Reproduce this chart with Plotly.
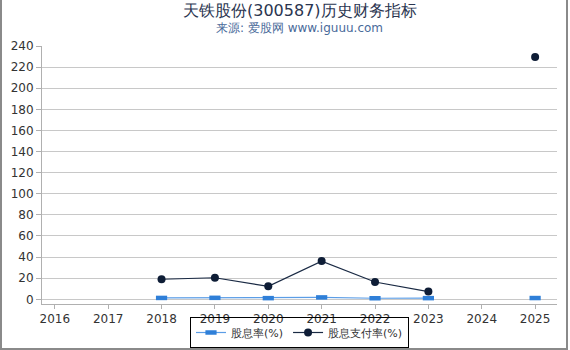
import plotly.graph_objects as go

years = [2016, 2017, 2018, 2019, 2020, 2021, 2022, 2023, 2024, 2025]
dividend_yield = [None, None, 1.3, 1.4, 1.1, 1.8, 1.0, 1.1, None, 1.2]
payout_ratio = [None, None, 19.0, 20.4, 12.3, 36.2, 16.4, 7.3, None, 229.5]
y_ticks = list(range(0, 241, 20))

PLOT_BOTTOM = 304.0
PLOT_H = 258.0

def py(pix):
    return (PLOT_BOTTOM - pix) / PLOT_H

fig = go.Figure()
fig.add_trace(go.Scatter(
    x=years, y=dividend_yield, name="股息率(%)", mode="lines+markers",
    line=dict(color="#5b9de6", width=1.2),
    marker=dict(symbol="line-ew", size=8, color="#2f7fd8",
                line=dict(color="#2f7fd8", width=4.5)),
))
fig.add_trace(go.Scatter(
    x=years, y=payout_ratio, name="股息支付率(%)", mode="lines+markers",
    line=dict(color="#1a2a44", width=1.2),
    marker=dict(symbol="circle", size=8, color="#0e1d36"),
    cliponaxis=False,
))

fig.update_layout(
    width=570, height=350,
    margin=dict(l=42, r=13, t=46, b=46, autoexpand=False),
    paper_bgcolor="white", plot_bgcolor="white",
    font=dict(family="DejaVu Sans", size=12, color="#333333"),
    xaxis=dict(
        range=[2015.76, 2025.41], tickmode="array", tickvals=years,
        ticktext=[str(y) for y in years],
        showgrid=False, showline=True, linecolor="#b0b0b0", linewidth=1,
        ticks="outside", ticklen=4, tickcolor="#b0b0b0",
        tickfont=dict(size=12, color="#333333"), zeroline=False,
    ),
    yaxis=dict(
        range=[-4.45, 240], tickmode="array", tickvals=y_ticks,
        showgrid=True, gridcolor="#c8c8c8", gridwidth=1,
        showline=True, linecolor="#b0b0b0", linewidth=1,
        ticks="outside", ticklen=5, tickcolor="#b0b0b0",
        tickfont=dict(size=12, color="#333333"), zeroline=False,
    ),
    legend=dict(
        orientation="h", x=0.5, xanchor="center",
        y=py(348), yanchor="bottom",
        bordercolor="#000000", borderwidth=1, bgcolor="rgba(255,255,255,0)",
        font=dict(size=11, color="#333333"),
        tracegroupgap=0, itemwidth=30,
    ),
    showlegend=True,
)

fig.add_annotation(text="天铁股份(300587)历史财务指标", xref="paper", yref="paper",
                   x=0.5, y=py(11), xanchor="center", yanchor="middle",
                   showarrow=False, font=dict(size=16, color="#2a3550"))
fig.add_annotation(text="来源: 爱股网 www.iguuu.com", xref="paper", yref="paper",
                   x=0.5, y=py(28), xanchor="center", yanchor="middle",
                   showarrow=False, font=dict(size=12, color="#4a6a9a"))

# outer frame of the image (left, right, bottom)
fig.add_shape(type="rect", xref="paper", yref="paper",
              x0=-41.0/515, x1=(567-42)/515, y0=py(349), y1=py(-10),
              line=dict(color="#8a8a8a", width=2), layer="below")

fig.write_html("out.html")
